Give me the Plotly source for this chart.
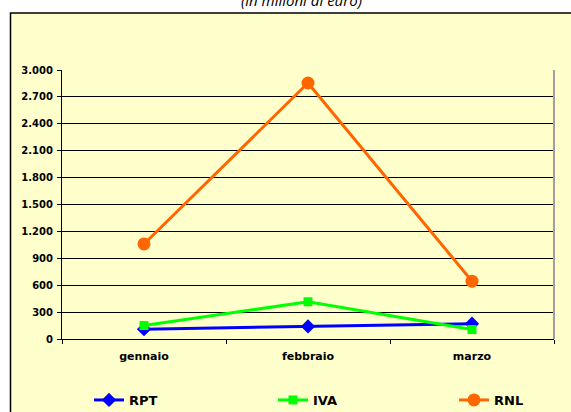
import plotly.graph_objects as go

months = ["gennaio", "febbraio", "marzo"]
rpt = [110, 140, 170]
iva = [150, 415, 105]
rnl = [1060, 2855, 645]
y_ticks = [0, 300, 600, 900, 1200, 1500, 1800, 2100, 2400, 2700, 3000]

W, H = 571, 412
L, R, T, B = 62, 17, 70, 73
pw, ph = W - L - R, H - T - B

def px2x(px):
    return (px - L) / pw

def py2y(py):
    return (H - B - py) / ph

fig = go.Figure()
fig.add_trace(go.Scatter(x=months, y=rpt, name="RPT", mode="lines+markers", legend="legend",
                         line=dict(color="#0000FF", width=3),
                         marker=dict(symbol="diamond", size=11, color="#0000FF")))
fig.add_trace(go.Scatter(x=months, y=iva, name="IVA", mode="lines+markers", legend="legend2",
                         line=dict(color="#00FF00", width=3),
                         marker=dict(symbol="square", size=9, color="#00FF00")))
fig.add_trace(go.Scatter(x=months, y=rnl, name="RNL", mode="lines+markers", legend="legend3",
                         line=dict(color="#FF6600", width=3),
                         marker=dict(symbol="circle", size=13, color="#FF6600")))

leg_font = dict(size=13, family="DejaVu Sans, Arial, sans-serif", weight="bold")
tick_font_family = "DejaVu Sans, Arial, sans-serif"

def leg(px):
    return dict(orientation="h", xref="container", yref="container",
                x=px / W, xanchor="left", y=1 - 400 / H, yanchor="middle",
                bgcolor="rgba(0,0,0,0)", font=leg_font, itemwidth=30)

fig.update_layout(
    width=W, height=H,
    margin=dict(l=L, r=R, t=T, b=B, pad=0, autoexpand=False),
    paper_bgcolor="white",
    plot_bgcolor="rgba(0,0,0,0)",
    separators=",.",
    font=dict(family="Arial, Liberation Sans, sans-serif", color="black"),
    showlegend=True,
    legend=leg(89), legend2=leg(273), legend3=leg(454),
    xaxis=dict(showgrid=False, showline=True, linecolor="black", linewidth=1,
               ticks="outside", ticklen=4, tickcolor="black", tickson="boundaries",
               automargin=False, ticklabelstandoff=7,
               tickfont=dict(size=11, family=tick_font_family, weight="bold"),
               range=[-0.5, 2.5], fixedrange=True),
    yaxis=dict(range=[0, 3000], tickvals=y_ticks, tickformat=",d", automargin=False,
               showgrid=True, gridcolor="black", gridwidth=1,
               showline=True, linecolor="black", linewidth=1, zeroline=False,
               ticks="outside", ticklen=4, tickcolor="black", ticklabelstandoff=2,
               tickfont=dict(size=10, family=tick_font_family, weight="bold")),
    shapes=[
        dict(type="rect", xref="paper", yref="paper",
             x0=px2x(10.5), x1=px2x(580), y0=py2y(13), y1=py2y(420),
             fillcolor="#FFFFCC", line=dict(color="black", width=1.5), layer="below"),
        dict(type="line", xref="paper", yref="paper", x0=1, x1=1, y0=0, y1=1,
             line=dict(color="#A0A0A0", width=2)),
    ],
    annotations=[
        dict(text="<i>(in milioni di euro)</i>", xref="paper", yref="paper",
             x=px2x(301), y=py2y(0), xanchor="center", yanchor="middle",
             showarrow=False, font=dict(size=15, family="Open Sans, Arial, sans-serif")),
    ],
)

fig.write_html("out.html", config={"displayModeBar": False},
               post_script="document.body.style.margin='0';")
